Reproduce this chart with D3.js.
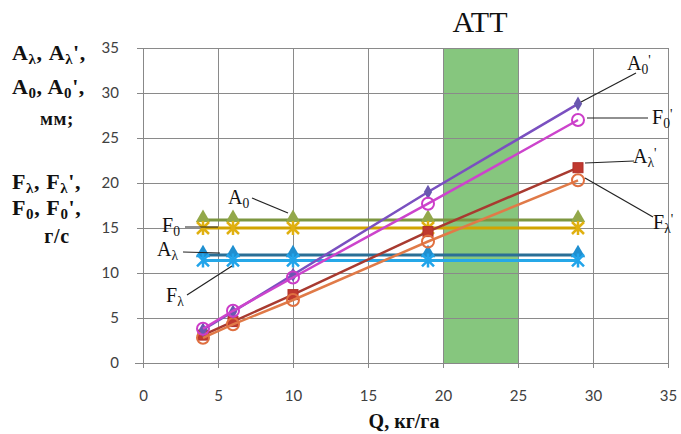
<!DOCTYPE html>
<html><head><meta charset="utf-8">
<script src="https://cdn.jsdelivr.net/npm/d3@7/dist/d3.min.js"></script>
<style>
html,body{margin:0;padding:0;background:#fff;}
svg{display:block;}
</style></head>
<body>
<svg id="chart" width="681" height="434"></svg>
<script>
// ---- data ----
const xQ = [4, 6, 10, 19, 29];
const seriesA0p = [3.7, 5.7, 9.8, 19.0, 28.8];   // A0'
const seriesF0p = [3.8, 5.8, 9.5, 17.7, 27.0];   // F0'
const seriesAlp = [3.1, 4.6, 7.6, 14.6, 21.7];   // Aλ'
const seriesFlp = [2.8, 4.3, 7.0, 13.5, 20.3];   // Fλ'
const seriesA0  = [15.9, 15.9, 15.9, 15.9, 15.9]; // A0
const seriesF0  = [15.0, 15.0, 15.0, 15.0, 15.0]; // F0
const seriesAl  = [12.0, 12.0, 12.0, 12.0, 12.0]; // Aλ
const seriesFl  = [11.4, 11.4, 11.4, 11.4, 11.4]; // Fλ
const xTicks = [0, 5, 10, 15, 20, 25, 30, 35];
const yTicks = [0, 5, 10, 15, 20, 25, 30, 35];
const attRange = [20, 25];

// ---- layout ----
const svg = d3.select("#chart");
const x = d3.scaleLinear().domain([0, 35]).range([143, 668]);
const y = d3.scaleLinear().domain([0, 35]).range([363, 48]);
const serif = "'Liberation Serif','Times New Roman',serif";
const sans = "Lato,'Liberation Sans',sans-serif";

// ATT band
svg.append("rect")
  .attr("x", x(attRange[0])).attr("y", y(35))
  .attr("width", x(attRange[1]) - x(attRange[0]))
  .attr("height", y(0) - y(35))
  .attr("fill", "#86c67e");

// gridlines
const grid = svg.append("g").attr("stroke", "#8a8a8a").attr("stroke-width", 1).attr("shape-rendering", "crispEdges");
yTicks.filter(d => d > 0).forEach(t => {
  grid.append("line").attr("x1", x(0)).attr("x2", x(35)).attr("y1", y(t)).attr("y2", y(t));
});
xTicks.filter(d => d > 0).forEach(t => {
  grid.append("line").attr("x1", x(t)).attr("x2", x(t)).attr("y1", y(35)).attr("y2", y(0));
});

// axes
const yAxis = svg.append("g").attr("transform", `translate(${x(0)},0)`)
  .call(d3.axisLeft(y).tickValues(yTicks).tickSize(6).tickPadding(18));
yAxis.selectAll("line").attr("x2", -6).attr("x1", 5);
const xAxis = svg.append("g").attr("transform", `translate(0,${y(0)})`)
  .call(d3.axisBottom(x).tickValues(xTicks).tickSize(5).tickPadding(22));
xAxis.selectAll(".tick line").attr("y1", -4).attr("y2", 5);
[yAxis, xAxis].forEach(a => {
  a.select(".domain").attr("stroke", "#888").attr("shape-rendering", "crispEdges");
  a.selectAll(".tick line").attr("stroke", "#888").attr("shape-rendering", "crispEdges");
  a.selectAll("text").attr("fill", "#404040").style("font-family", sans).style("font-size", "15px");
});
yAxis.select(".domain").attr("d", `M0,${y(35)}V${y(0)}`);
xAxis.select(".domain").attr("d", `M${x(0) - 8},0H${x(35)}`);

// ---- series ----
const line = d3.line().x((d, i) => x(xQ[i])).y(d => y(d));

function drawSeries(vals, color, width, marker, mColor, mFill) {
  const g = svg.append("g");
  g.append("path").datum(vals).attr("d", line)
    .attr("fill", "none").attr("stroke", color).attr("stroke-width", width);
  vals.forEach((v, i) => {
    const cx = x(xQ[i]), cy = y(v);
    if (marker === "circle") {
      g.append("circle").attr("cx", cx).attr("cy", cy).attr("r", 6)
        .attr("fill", "none").attr("stroke", mColor).attr("stroke-width", 2);
    } else if (marker === "square") {
      g.append("rect").attr("x", cx - 5).attr("y", cy - 5).attr("width", 10).attr("height", 10)
        .attr("fill", mFill).attr("stroke", mColor).attr("stroke-width", 1);
    } else if (marker === "diamond") {
      g.append("path").attr("d", d3.symbol(d3.symbolDiamond, 60)())
        .attr("transform", `translate(${cx},${cy})`).attr("fill", mFill);
    } else if (marker === "triangle") {
      g.append("path").attr("d", d3.symbol(d3.symbolTriangle, 90)())
        .attr("transform", `translate(${cx},${cy - 2})`).attr("fill", mFill);
    } else if (marker === "star") {
      const s = 6;
      g.append("path")
        .attr("d", `M${cx - s},${cy - s}L${cx + s},${cy + s}M${cx - s},${cy + s}L${cx + s},${cy - s}M${cx},${cy - s - 1}L${cx},${cy + s + 1}`)
        .attr("stroke", mColor).attr("stroke-width", 2.5).attr("fill", "none");
    }
  });
}

drawSeries(seriesA0, "#7d9640", 3, "triangle", "#93a84a", "#93a84a");
drawSeries(seriesF0, "#d2a400", 3, "star", "#e0b010", "#e0b010");
drawSeries(seriesAl, "#2a6f96", 3, "triangle", "#1f8fd0", "#1f8fd0");
drawSeries(seriesFl, "#26a8e8", 3, "star", "#22a4ea", "#22a4ea");
drawSeries(seriesAlp, "#a83a30", 2.5, "square", "#b0302a", "#c0392f");
drawSeries(seriesFlp, "#e07a48", 2.5, "circle", "#e07040", "none");
drawSeries(seriesA0p, "#7a50c0", 2.5, "diamond", "#6a58b0", "#6a58b0");
drawSeries(seriesF0p, "#cc44cc", 2.5, "circle", "#cc3cc8", "none");

// ---- annotations ----
function label(px, py, main, sub, prime, size) {
  const t = svg.append("text").attr("x", px).attr("y", py)
    .attr("font-family", serif).attr("font-size", size)
    .attr("fill", "#111");
  t.append("tspan").text(main);
  if (sub) t.append("tspan").attr("font-size", size * 0.68).attr("dy", size * 0.2).text(sub);
  if (prime) t.append("tspan").attr("dy", sub ? -size * 0.45 : 0).attr("font-size", size * 0.68).text(prime);
  return t;
}
function leader(x1, y1, x2, y2) {
  svg.append("line").attr("x1", x1).attr("y1", y1).attr("x2", x2).attr("y2", y2)
    .attr("stroke", "#222").attr("stroke-width", 1.2);
}

leader(581, 102, 636, 73);
label(627, 70, "A", "0", "'", 20);
leader(587, 118, 648, 118);
label(652, 124, "F", "0", "'", 20);
leader(585, 163, 634, 161);
label(633, 163, "A", "λ", "'", 20);
leader(585, 178, 653, 217);
label(653, 229, "F", "λ", "'", 20);

leader(252, 198, 288, 213);
label(228, 204, "A", "0", null, 20);
leader(185, 227, 218, 227);
label(162, 232, "F", "0", null, 20);
leader(183, 252, 220, 253);
label(157, 256, "A", "λ", null, 20);
leader(187, 295, 232, 266);
label(166, 302, "F", "λ", null, 20);

// ATT
svg.append("text").attr("x", 480).attr("y", 32).attr("text-anchor", "middle")
  .attr("font-family", serif).attr("font-size", 30).attr("fill", "#111").text("ATT");

// x axis title
svg.append("text").attr("x", 404).attr("y", 428).attr("text-anchor", "middle")
  .attr("font-family", serif).attr("font-size", 20).attr("font-weight", "bold")
  .attr("fill", "#111").text("Q, кг/га");

// y axis title (multi-line)
function titleLine(px, py, parts, anchor, size) {
  const fs = size || 22;
  const t = svg.append("text").attr("x", px).attr("y", py)
    .attr("font-family", serif).attr("font-size", fs).attr("font-weight", "bold")
    .attr("letter-spacing", 0.6)
    .attr("fill", "#111").attr("text-anchor", anchor || "start");
  let shifted = 0;
  parts.forEach(p => {
    const ts = t.append("tspan").text(p.t);
    const target = p.sub ? 4 : 0;
    if (p.sub || shifted) ts.attr("dy", target - shifted);
    shifted = target;
    if (p.sub) ts.attr("font-size", fs * 0.68);
  });
  return t;
}
titleLine(12, 60, [{t: "A"}, {t: "λ", sub: 1}, {t: ", A"}, {t: "λ", sub: 1}, {t: "',"}]);
titleLine(12, 94, [{t: "A"}, {t: "0", sub: 1}, {t: ", A"}, {t: "0", sub: 1}, {t: "',"}]);
titleLine(57, 125, [{t: "мм;"}], "middle", 19);
titleLine(12, 189, [{t: "F"}, {t: "λ", sub: 1}, {t: ", F"}, {t: "λ", sub: 1}, {t: "',"}]);
titleLine(12, 215, [{t: "F"}, {t: "0", sub: 1}, {t: ", F"}, {t: "0", sub: 1}, {t: "',"}]);
titleLine(57, 243, [{t: "г/с"}], "middle", 20);
</script>
</body></html>
